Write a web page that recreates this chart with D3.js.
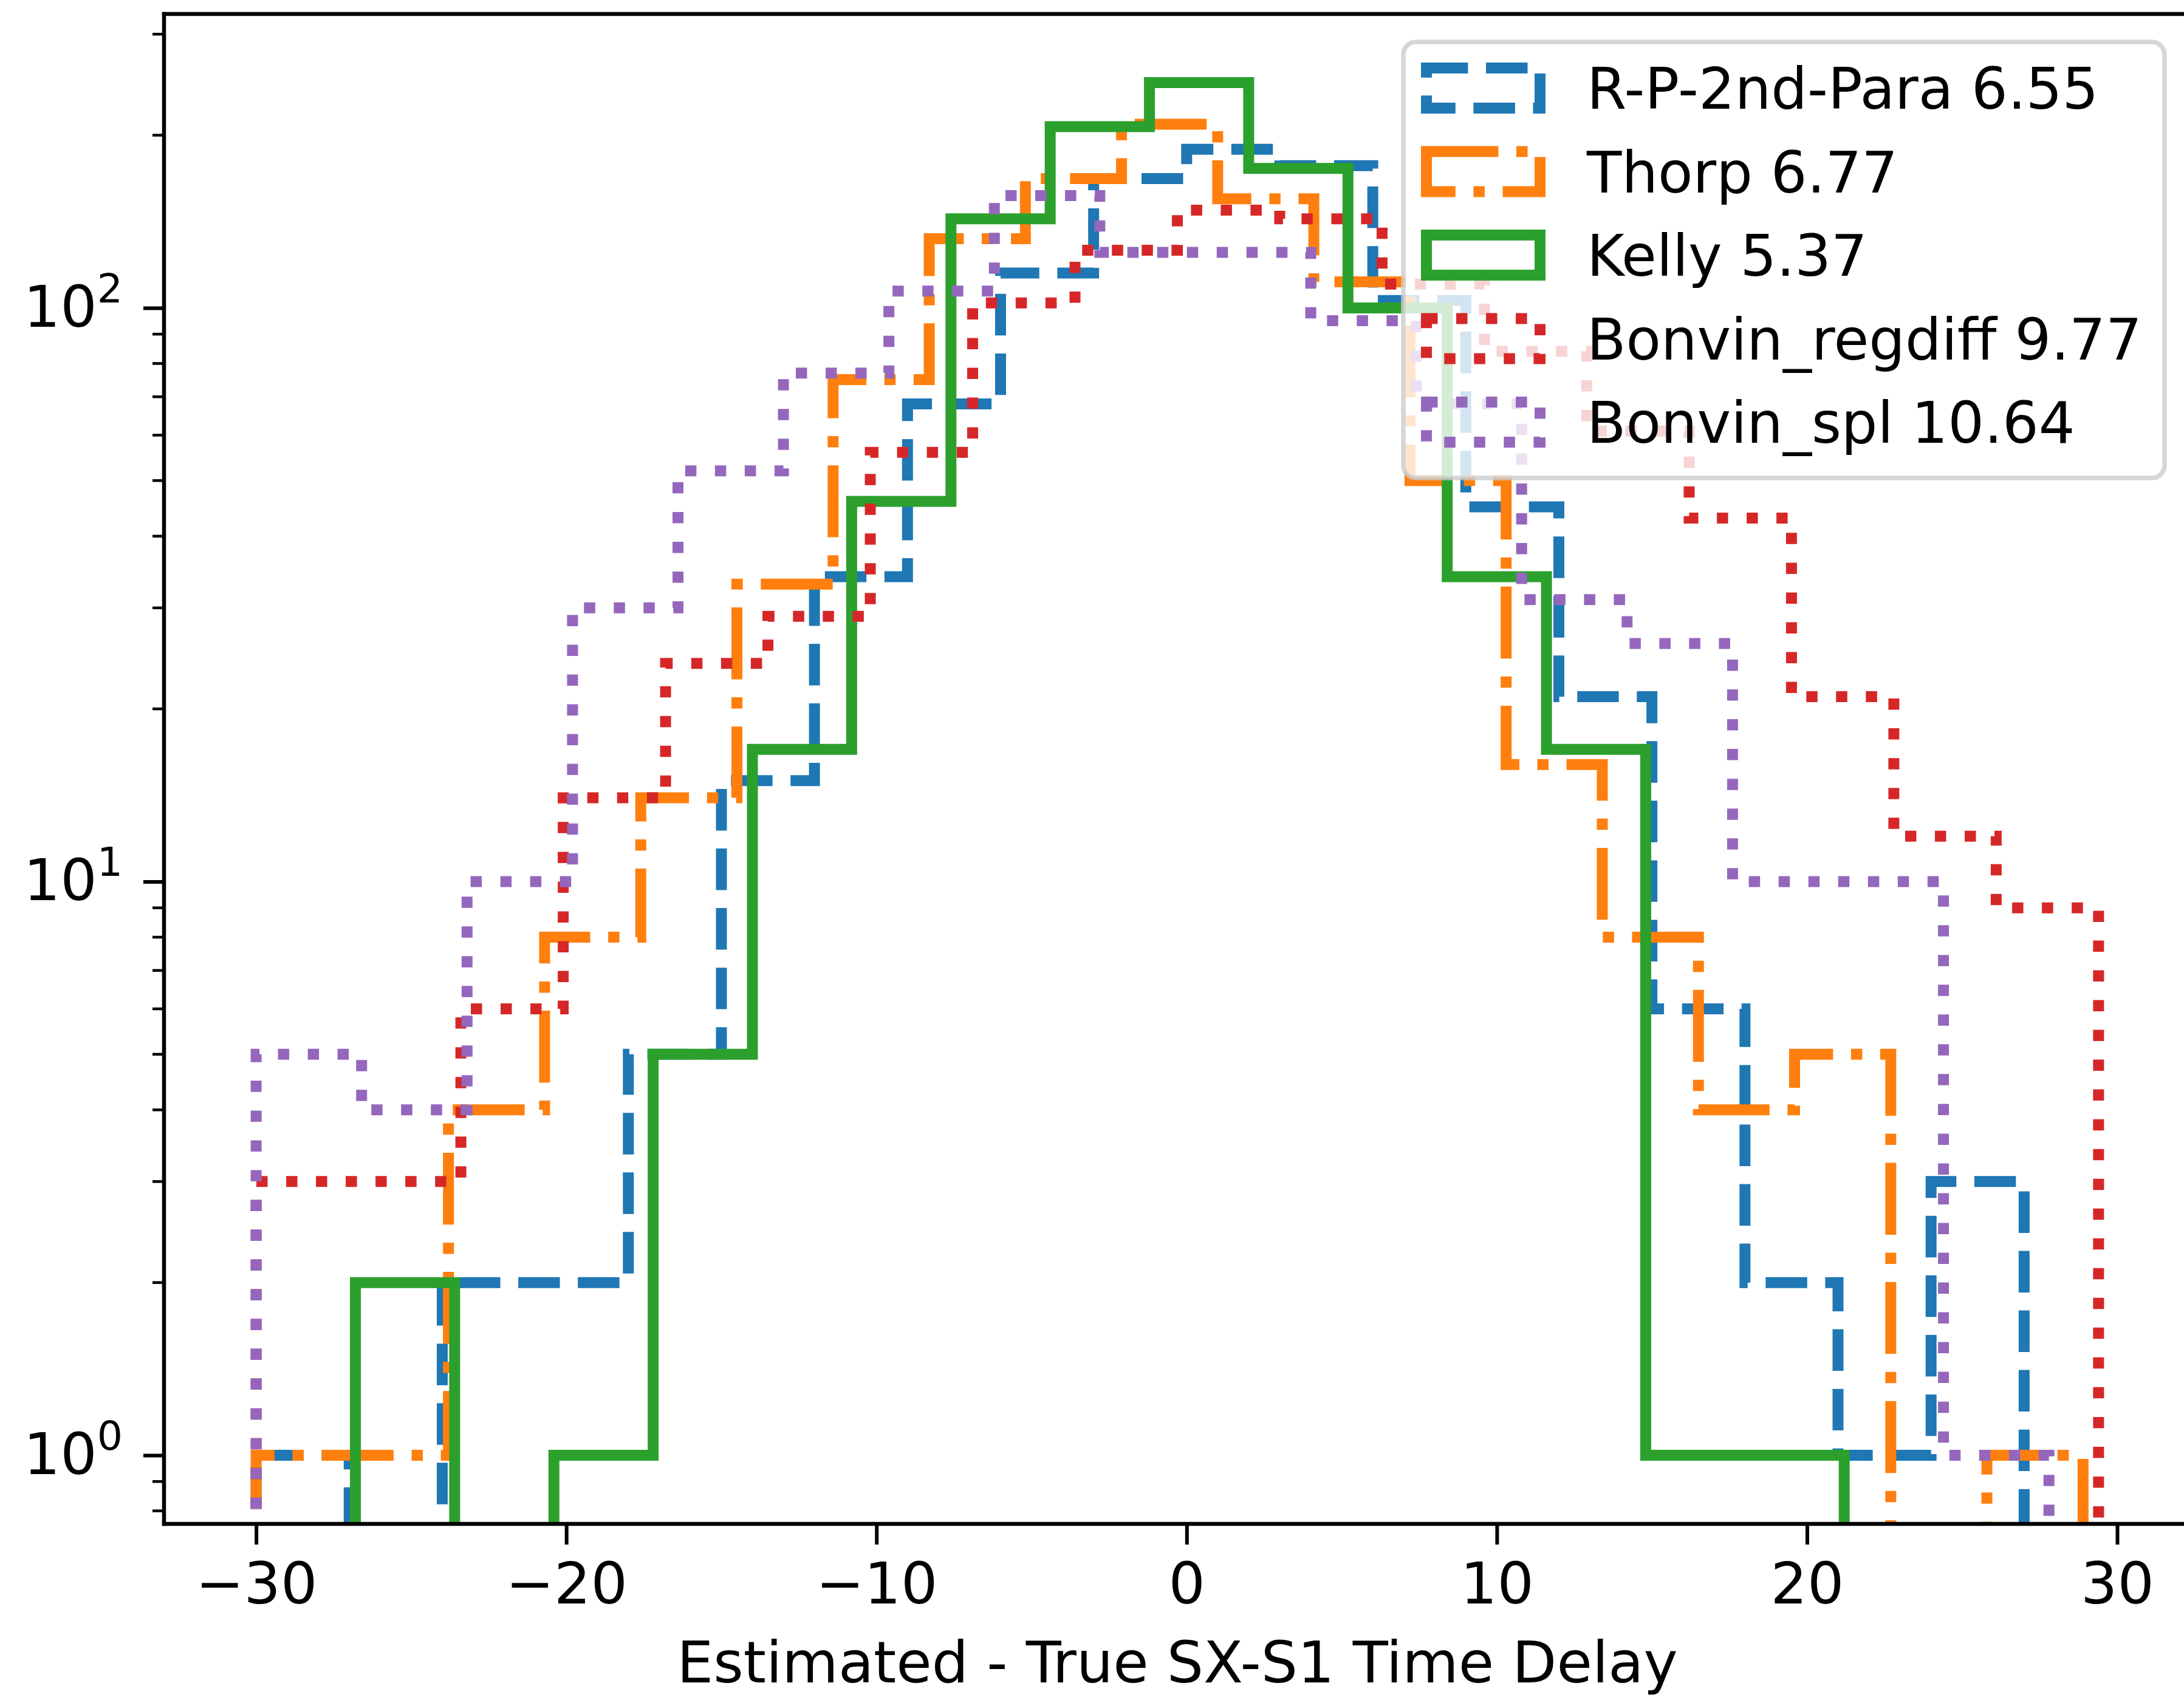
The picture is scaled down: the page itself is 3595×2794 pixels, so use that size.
<!DOCTYPE html>
<html><head><meta charset="utf-8">
<script src="https://cdn.jsdelivr.net/npm/d3@7"></script>
<style>html,body{margin:0;padding:0;background:#fff}</style>
</head><body>
<svg id="chart" width="3595" height="2794" xmlns="http://www.w3.org/2000/svg"></svg>
<script>
// ---------------- data ----------------
const seriesLabels = ["R-P-2nd-Para 6.55", "Thorp 6.77", "Kelly 5.37", "Bonvin_regdiff 9.77", "Bonvin_spl 10.64"];
const seriesColors = ["#1f77b4", "#ff7f0e", "#2ca02c", "#d62728", "#9467bd"];
const seriesStyles = ["dashed", "dashdot", "solid", "dotted", "dotted"];

const rpEdges = [-30, -27, -24, -21, -18, -15, -12, -9, -6, -3, 0, 3, 6, 9, 12, 15, 18, 21, 24, 27];
const rpCounts = [1, 0, 2, 2, 5, 15, 34, 68, 115, 168, 189, 177, 103, 45, 21, 6, 2, 1, 3];

const thorpEdges = [-30, -26.9, -23.8, -20.7, -17.6, -14.5, -11.4, -8.3, -5.2, -2.1, 1.0, 4.1, 7.2, 10.3, 13.4, 16.5, 19.6, 22.7, 25.8, 28.9];
const thorpCounts = [1, 1, 4, 8, 14, 33, 75, 132, 168, 209, 155, 111, 50, 16, 8, 4, 5, 0, 1];

const kellyEdges = [-26.8, -23.6, -20.4, -17.2, -14.0, -10.8, -7.6, -4.4, -1.2, 2.0, 5.2, 8.4, 11.6, 14.8, 18.0, 21.2];
const kellyCounts = [2, 0, 1, 5, 17, 46, 143, 207, 247, 175, 100, 34, 17, 1, 1];

const regdiffEdges = [-30, -26.7, -23.4, -20.1, -16.8, -13.5, -10.2, -6.9, -3.6, -0.3, 3.0, 6.3, 9.6, 12.9, 16.2, 19.5, 22.8, 26.1, 29.4];
const regdiffCounts = [3, 3, 6, 14, 24, 29, 56, 102, 126, 148, 143, 110, 84, 61, 43, 21, 12, 9];

const splEdges = [-30, -26.6, -23.2, -19.8, -16.4, -13.0, -9.6, -6.2, -2.8, 0.6, 4.0, 7.4, 10.8, 14.2, 17.6, 21.0, 24.4, 27.8];
const splCounts = [5, 4, 10, 30, 52, 77, 107, 157, 125, 125, 95, 68, 31, 26, 10, 10, 1];

const xTickValues = [-30, -20, -10, 0, 10, 20, 30];
const yTickValues = [1, 10, 100];
const xAxisLabel = "Estimated - True SX-S1 Time Delay";

// ---------------- layout ----------------
const W = 3595, H = 2794;
const plot = {left: 270, right: 3606, top: 23, bottom: 2509};
const LW = 18;          // line width in px
const U = 18.5;         // dash unit
const dashes = {
  solid: null,
  dashed: [3.7 * U, 1.6 * U],
  dashdot: [6.4 * U, 1.6 * U, 1 * U, 1.6 * U],
  dotted: [1 * U, 1.65 * U]
};
const FONT = "'DejaVu Sans', 'Liberation Sans', sans-serif";
const FS = 95;
const FS_LEG = 94;

const series = [
  {edges: rpEdges, counts: rpCounts},
  {edges: thorpEdges, counts: thorpCounts},
  {edges: kellyEdges, counts: kellyCounts},
  {edges: regdiffEdges, counts: regdiffCounts},
  {edges: splEdges, counts: splCounts}
].map((s, i) => ({...s, label: seriesLabels[i], color: seriesColors[i], style: seriesStyles[i]}));

// ---------------- scales (matplotlib-like 5% margins) ----------------
const allEdges = series.flatMap(s => s.edges);
const xMin = d3.min(allEdges), xMax = d3.max(allEdges);
const xPad = 0.05 * (xMax - xMin);
const x = d3.scaleLinear().domain([xMin - xPad, xMax + xPad]).range([plot.left, plot.right]);

const maxCount = d3.max(series.flatMap(s => s.counts));
const L = Math.log10(maxCount);
const y = d3.scaleLog().domain([Math.pow(10, -0.05 * L), Math.pow(10, 1.05 * L)]).range([plot.bottom, plot.top]);
const floorVal = 1e-3;

const svg = d3.select("#chart");
svg.append("rect").attr("width", W).attr("height", H).attr("fill", "#fff");

svg.append("defs").append("clipPath").attr("id", "clip")
  .append("rect").attr("x", plot.left).attr("y", plot.top)
  .attr("width", plot.right - plot.left).attr("height", plot.bottom - plot.top);

// ---------------- histogram steps ----------------
function stepPoints(edges, counts) {
  const pts = [[edges[0], floorVal]];
  counts.forEach((c, i) => {
    const v = c > 0 ? c : floorVal;
    pts.push([edges[i], v]);
    pts.push([edges[i + 1], v]);
  });
  pts.push([edges[edges.length - 1], floorVal]);
  return pts;
}
const line = d3.line().x(d => x(d[0])).y(d => y(d[1]));

const gLines = svg.append("g").attr("clip-path", "url(#clip)");
series.forEach(s => {
  gLines.append("path")
    .attr("d", line(stepPoints(s.edges, s.counts)))
    .attr("fill", "none")
    .attr("stroke", s.color)
    .attr("stroke-width", LW)
    .attr("stroke-linejoin", "miter")
    .attr("stroke-linecap", "butt")
    .attr("stroke-dasharray", dashes[s.style] ? dashes[s.style].join(",") : null);
});

// ---------------- axes ----------------
const fmtX = d => (d < 0 ? "\u2212" + Math.abs(d) : String(d));
const xAxis = d3.axisBottom(x).tickValues(xTickValues).tickFormat(fmtX).tickSize(34).tickPadding(30);
const gx = svg.append("g").attr("transform", `translate(0,${plot.bottom})`).call(xAxis);
gx.select(".domain").remove();
gx.selectAll(".tick line").attr("stroke", "#000").attr("stroke-width", 6);
gx.selectAll(".tick text").attr("font-family", FONT).attr("font-size", FS).attr("fill", "#000");

const yAxis = d3.axisLeft(y).tickValues(yTickValues).tickFormat(() => "").tickSize(34);
const gy = svg.append("g").attr("transform", `translate(${plot.left},0)`).call(yAxis);
gy.select(".domain").remove();
gy.selectAll(".tick line").attr("stroke", "#000").attr("stroke-width", 6);
gy.selectAll(".tick").each(function(d) {
  const t = d3.select(this).select("text")
    .attr("x", -68).attr("dy", "0.32em")
    .attr("font-family", FONT).attr("font-size", FS).attr("fill", "#000")
    .attr("text-anchor", "end").text(null);
  t.append("tspan").text("10");
  t.append("tspan").attr("font-size", FS * 0.7).attr("dy", -FS * 0.42).text(String(Math.round(Math.log10(d))));
});

// minor ticks
const [yLo, yHi] = y.domain();
const minorVals = [];
for (let e = Math.floor(Math.log10(yLo)); e <= Math.ceil(Math.log10(yHi)); e++) {
  for (let m = 2; m <= 9; m++) {
    const v = m * Math.pow(10, e);
    if (v >= yLo && v <= yHi) minorVals.push(v);
  }
}
svg.append("g").selectAll("line").data(minorVals).join("line")
  .attr("x1", plot.left).attr("x2", plot.left - 19)
  .attr("y1", d => y(d)).attr("y2", d => y(d))
  .attr("stroke", "#000").attr("stroke-width", 4.5);

// spines
const spines = svg.append("g").attr("stroke", "#000").attr("stroke-width", 6.5).attr("fill", "none")
  .attr("stroke-linecap", "square");
spines.append("line").attr("x1", plot.left).attr("x2", plot.right).attr("y1", plot.top).attr("y2", plot.top);
spines.append("line").attr("x1", plot.left).attr("x2", plot.right).attr("y1", plot.bottom).attr("y2", plot.bottom);
spines.append("line").attr("x1", plot.left).attr("x2", plot.left).attr("y1", plot.top).attr("y2", plot.bottom);
spines.append("line").attr("x1", plot.right).attr("x2", plot.right).attr("y1", plot.top).attr("y2", plot.bottom);

// x label
svg.append("text")
  .attr("x", (plot.left + plot.right) / 2).attr("y", 2770)
  .attr("text-anchor", "middle")
  .attr("font-family", FONT).attr("font-size", FS).attr("fill", "#000")
  .text(xAxisLabel);

// ---------------- legend ----------------
const leg = {x: 2310, y: 69, w: 1253, h: 718, rowH: 137.5};
const gl = svg.append("g");
gl.append("rect")
  .attr("x", leg.x).attr("y", leg.y).attr("width", leg.w).attr("height", leg.h)
  .attr("rx", 21).attr("ry", 21)
  .attr("fill", "#fff").attr("fill-opacity", 0.8)
  .attr("stroke", "#cccccc").attr("stroke-opacity", 0.8).attr("stroke-width", 7.5);
series.forEach((s, i) => {
  const cy = 145 + i * leg.rowH;
  gl.append("rect")
    .attr("x", 2348).attr("y", cy - 33).attr("width", 187).attr("height", 66)
    .attr("fill", "none").attr("stroke", s.color).attr("stroke-width", LW)
    .attr("stroke-dasharray", dashes[s.style] ? dashes[s.style].join(",") : null);
  gl.append("text")
    .attr("x", 2612).attr("y", cy + 34)
    .attr("font-family", FONT).attr("font-size", FS_LEG).attr("fill", "#000")
    .text(s.label);
});
</script>
</body></html>
